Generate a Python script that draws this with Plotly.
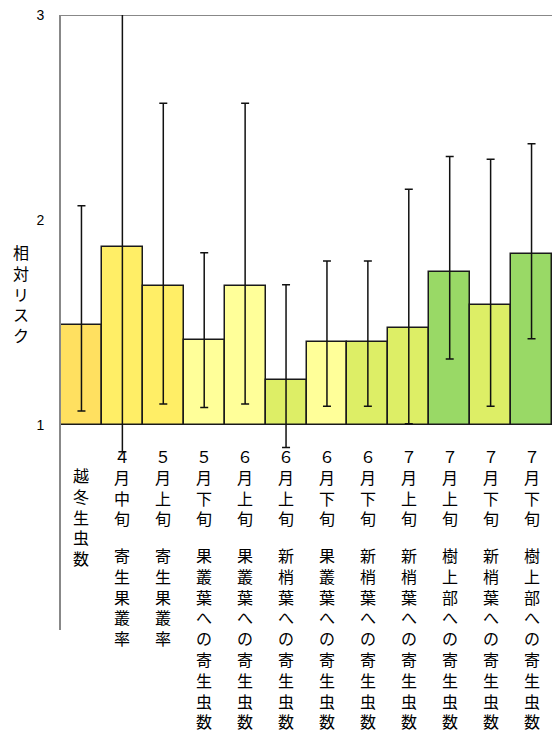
import plotly.graph_objects as go

dates = ["", "４月中旬", "５月上旬", "５月下旬", "６月上旬", "６月上旬", "６月下旬",
         "６月下旬", "７月上旬", "７月上旬", "７月下旬", "７月下旬"]
items = ["越冬生虫数", "寄生果叢率", "寄生果叢率", "果叢葉への寄生虫数", "果叢葉への寄生虫数",
         "新梢葉への寄生虫数", "果叢葉への寄生虫数", "新梢葉への寄生虫数", "新梢葉への寄生虫数",
         "樹上部への寄生虫数", "新梢葉への寄生虫数", "樹上部への寄生虫数"]
categories = [d + " " + it for d, it in zip(dates, items)]

relative_risk = [1.49, 1.87, 1.68, 1.415, 1.68, 1.22, 1.403, 1.403, 1.475, 1.748, 1.585, 1.834]
ci_upper = [2.07, 3.3, 2.57, 1.84, 2.57, 1.684, 1.80, 1.80, 2.15, 2.31, 2.296, 2.372]
ci_lower = [1.068, 0.87, 1.102, 1.085, 1.102, 0.89, 1.091, 1.091, 1.006, 1.322, 1.091, 1.421]
colors = ["#FFE060", "#FFEE66", "#FFEE66", "#FFFF99", "#FFFF99", "#DDEE66", "#FFFF99",
          "#DDEE66", "#DDEE66", "#99D966", "#DDEE66", "#99D966"]
y_ticks = [1, 2, 3]
baseline = 1

fig = go.Figure()
fig.add_trace(go.Bar(
    x=categories,
    y=[v - baseline for v in relative_risk],
    base=baseline,
    marker=dict(color=colors, line=dict(color="#1a1a1a", width=1.5)),
    error_y=dict(
        type="data", symmetric=False,
        array=[u - v for u, v in zip(ci_upper, relative_risk)],
        arrayminus=[v - l for v, l in zip(relative_risk, ci_lower)],
        color="#111111", thickness=1.5, width=4,
    ),
    width=1,
    showlegend=False,
))

FONT_JP = "Noto Sans CJK JP"
FS = 16
annotations = []

def px_to_y(py):
    # plot area: y=3 at pixel 15, y=0 at pixel 630
    return (630 - py) / 205.0

for cat, d, it in zip(categories, dates, items):
    if d:
        annotations.append(dict(
            x=cat, y=px_to_y(442), xref="x", yref="y", yanchor="top", xanchor="center",
            text="<br>".join(list(d)), showarrow=False,
            font=dict(family=FONT_JP, size=FS, color="#000000"),
        ))
        annotations.append(dict(
            x=cat, y=px_to_y(541), xref="x", yref="y", yanchor="top", xanchor="center",
            text="<br>".join(list(it)), showarrow=False,
            font=dict(family=FONT_JP, size=FS, color="#000000"),
        ))
    else:
        annotations.append(dict(
            x=cat, y=px_to_y(461), xref="x", yref="y", yanchor="top", xanchor="center",
            text="<br>".join(list(it)), showarrow=False,
            font=dict(family=FONT_JP, size=FS, color="#000000"),
        ))

annotations.append(dict(
    x=(21 - 61) / 491.0, y=(630 - 238) / 615.0, xref="x domain", yref="y domain",
    xanchor="center", yanchor="top", showarrow=False,
    text="<br>".join(list("相対リスク")),
    font=dict(family=FONT_JP, size=FS, color="#000000"),
))

fig.update_layout(
    width=552, height=733,
    margin=dict(l=61, r=0, t=15, b=103),
    paper_bgcolor="white", plot_bgcolor="white",
    bargap=0,
    xaxis=dict(showticklabels=False, showgrid=False, zeroline=False, showline=False,
               range=[-0.5, len(categories) - 0.5]),
    yaxis=dict(range=[0, 3], tickvals=y_ticks, ticktext=[str(t) for t in y_ticks],
               showgrid=False, zeroline=False, showline=True, linecolor="#888888",
               linewidth=2, ticks="", ticklabelstandoff=12,
               tickfont=dict(family="Liberation Sans, Arial", size=14, color="#000000")),
    shapes=[dict(type="line", xref="paper", yref="y", x0=0, x1=1, y0=3, y1=3,
                 line=dict(color="#888888", width=2), layer="below")],
    annotations=annotations,
)

fig.write_html("out.html")
